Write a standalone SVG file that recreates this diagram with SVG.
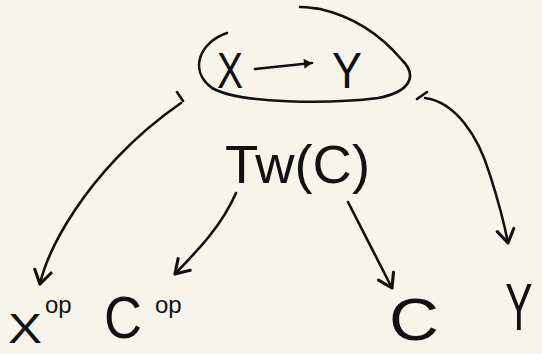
<svg xmlns="http://www.w3.org/2000/svg" width="542" height="354" viewBox="0 0 542 354">
<defs>
<style>
.ln{fill:none;stroke:#111;stroke-width:2.6;stroke-linecap:round;stroke-linejoin:round}
.tx{font-family:"Liberation Sans",Arial,sans-serif;fill:#111}
</style>
<marker id="v" markerUnits="userSpaceOnUse" markerWidth="24" markerHeight="24" viewBox="-14 -10 20 20" refX="0" refY="0" orient="auto">
<path d="M-11,-7 L0,0 L-11,7" fill="none" stroke="#111" stroke-width="2.6" stroke-linecap="round" stroke-linejoin="round"/>
</marker>
<marker id="f" markerUnits="userSpaceOnUse" markerWidth="16" markerHeight="16" viewBox="-10 -8 14 16" refX="0" refY="0" orient="auto">
<path d="M-8,-5 L0,0 L-8,5 Z" fill="#111"/>
</marker>
</defs>
<rect width="542" height="354" fill="#f7f5ea"/>
<g id="top">
<path class="ln" stroke-width="3" d="M227,33 C200,42 188,70 212,88 C240,104 330,104 378,98 C410,92 418,76 402,60 C385,40 360,18 320,9 C312,8 306,7 300,7"/>
<text class="tx" x="230" y="88" font-size="50" text-anchor="middle" textLength="26" lengthAdjust="spacingAndGlyphs">X</text>
<path class="ln" d="M255,69 L312,63" marker-end="url(#f)"/>
<text class="tx" x="347" y="88" font-size="50" text-anchor="middle" textLength="30" lengthAdjust="spacingAndGlyphs">Y</text>
</g>
<g id="twc">
<text class="tx" x="225" y="183" font-size="54" textLength="145" lengthAdjust="spacingAndGlyphs">Tw(C)</text>
</g>
<g id="xop">
<text class="tx" x="8" y="343" font-size="42" textLength="34" lengthAdjust="spacingAndGlyphs">X</text>
<text class="tx" x="45" y="313" font-size="24">op</text>
</g>
<g id="cop">
<text class="tx" x="104" y="338" font-size="60" textLength="38" lengthAdjust="spacingAndGlyphs">C</text>
<text class="tx" x="155" y="313" font-size="24">op</text>
</g>
<g id="c">
<text class="tx" x="389" y="340" font-size="60" textLength="50" lengthAdjust="spacingAndGlyphs">C</text>
</g>
<g id="y">
<text class="tx" transform="translate(519,330) scale(0.62,1)" font-size="66" text-anchor="middle">Y</text>
</g>
<g id="connectors">
<path class="ln" d="M177,92 L183,101"/>
<path class="ln" d="M181,103 C130,138 95,180 75,210 C55,240 45,262 40,284" marker-end="url(#v)"/>
<path class="ln" d="M417,99 L427,92"/>
<path class="ln" d="M425,98 C455,102 478,135 490,175 C498,200 504,222 508,243" marker-end="url(#v)"/>
<path class="ln" d="M236,193 C222,225 200,248 175,274" marker-end="url(#v)"/>
<path class="ln" d="M348,202 L392,288" marker-end="url(#v)"/>
</g>
</svg>
